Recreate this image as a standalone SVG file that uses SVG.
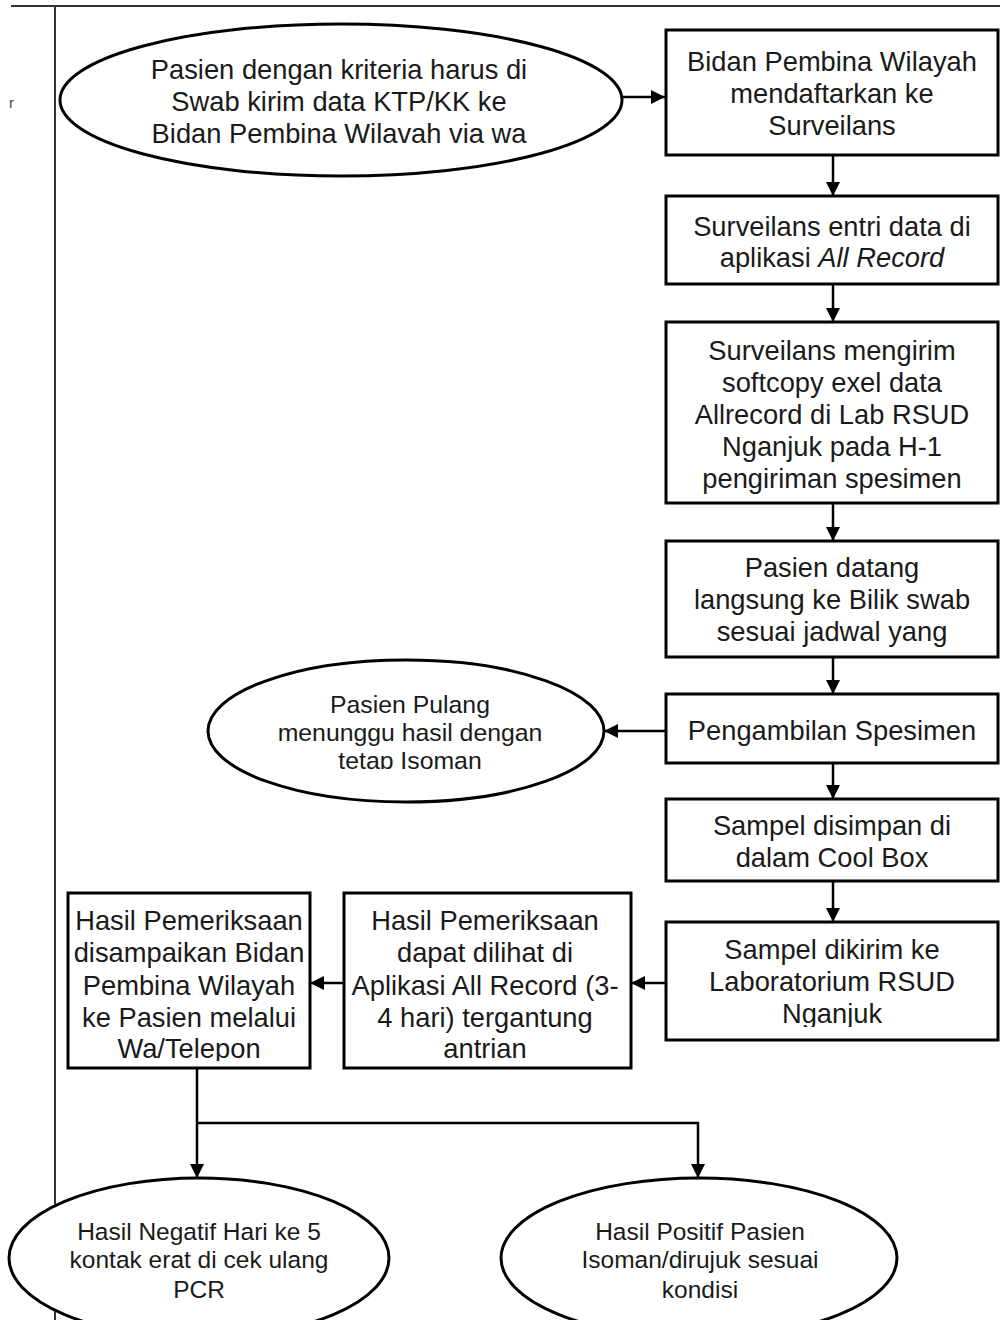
<svg xmlns="http://www.w3.org/2000/svg" width="1000" height="1320" viewBox="0 0 1000 1320">
<defs>
<style>
.shape{fill:#fff;stroke:#000;stroke-width:3}
.t{font-family:"Liberation Sans",Arial,sans-serif;font-size:27.3px;fill:#1a1a1a;text-anchor:middle}
.t2{font-family:"Liberation Sans",Arial,sans-serif;font-size:24.8px;fill:#1a1a1a;text-anchor:middle}
.t3{font-family:"Liberation Sans",Arial,sans-serif;font-size:24.5px;fill:#1a1a1a;text-anchor:middle}
.conn{fill:none;stroke:#000;stroke-width:2.5}
.frame{stroke:#333;stroke-width:2;fill:none}
</style>
<marker id="ah" viewBox="0 0 10 10" refX="10" refY="5" markerWidth="14" markerHeight="14" markerUnits="userSpaceOnUse" orient="auto">
<path d="M0,0 L10,5 L0,10 z" fill="#000"/>
</marker>
<clipPath id="c1"><rect x="0" y="0" width="1000" height="143.5"/></clipPath>
<clipPath id="c2"><rect x="0" y="0" width="1000" height="769"/></clipPath>
<clipPath id="c7"><rect x="0" y="0" width="1000" height="1027"/></clipPath>
<clipPath id="c89"><rect x="0" y="0" width="1000" height="1061"/></clipPath>
</defs>

<g id="frame">
<line class="frame" x1="11" y1="6" x2="1000" y2="6"/>
<line class="frame" x1="55" y1="6" x2="55" y2="1320"/>
<text x="9" y="108" style="font-family:'Liberation Sans',Arial,sans-serif;font-size:15px;fill:#444">r</text>
</g>

<g id="connectors">
<path class="conn" d="M622,97 H665" marker-end="url(#ah)"/>
<path class="conn" d="M833,155 V196" marker-end="url(#ah)"/>
<path class="conn" d="M833,284 V322" marker-end="url(#ah)"/>
<path class="conn" d="M833,503 V541" marker-end="url(#ah)"/>
<path class="conn" d="M833,657 V694" marker-end="url(#ah)"/>
<path class="conn" d="M665,731 H604" marker-end="url(#ah)"/>
<path class="conn" d="M833,763 V799" marker-end="url(#ah)"/>
<path class="conn" d="M833,881 V922" marker-end="url(#ah)"/>
<path class="conn" d="M665,983 H631" marker-end="url(#ah)"/>
<path class="conn" d="M344,983 H310" marker-end="url(#ah)"/>
<path class="conn" d="M197,1068 V1178" marker-end="url(#ah)"/>
<path class="conn" d="M197,1123 H698 V1178" marker-end="url(#ah)"/>
</g>

<g id="start">
<ellipse class="shape" cx="341" cy="100" rx="281" ry="76"/>
<g clip-path="url(#c1)">
<text class="t" x="339" y="79">Pasien dengan kriteria harus di</text>
<text class="t" x="339" y="111">Swab kirim data KTP/KK ke</text>
<text class="t" x="339" y="143">Bidan Pembina Wilavah via wa</text>
</g>
</g>

<g id="bidan-daftar">
<rect class="shape" x="666" y="30" width="332" height="125"/>
<text class="t" x="832" y="71">Bidan Pembina Wilayah</text>
<text class="t" x="832" y="103">mendaftarkan ke</text>
<text class="t" x="832" y="135">Surveilans</text>
</g>

<g id="entri-data">
<rect class="shape" x="666" y="196" width="332" height="88"/>
<text class="t" x="832" y="236">Surveilans entri data di</text>
<text class="t" x="832" y="267">aplikasi <tspan font-style="italic">All Record</tspan></text>
</g>

<g id="kirim-softcopy">
<rect class="shape" x="666" y="322" width="332" height="181"/>
<text class="t" x="832" y="360">Surveilans mengirim</text>
<text class="t" x="832" y="392">softcopy exel data</text>
<text class="t" x="832" y="424">Allrecord di Lab RSUD</text>
<text class="t" x="832" y="456">Nganjuk pada H-1</text>
<text class="t" x="832" y="488">pengiriman spesimen</text>
</g>

<g id="pasien-datang">
<rect class="shape" x="666" y="541" width="332" height="116"/>
<text class="t" x="832" y="577">Pasien datang</text>
<text class="t" x="832" y="609">langsung ke Bilik swab</text>
<text class="t" x="832" y="641">sesuai jadwal yang</text>
</g>

<g id="pengambilan">
<rect class="shape" x="666" y="694" width="332" height="69"/>
<text class="t" x="832" y="740">Pengambilan Spesimen</text>
</g>

<g id="pasien-pulang">
<ellipse class="shape" cx="406" cy="731" rx="198" ry="71"/>
<g clip-path="url(#c2)">
<text class="t2" x="410" y="713">Pasien Pulang</text>
<text class="t2" x="410" y="741">menunggu hasil dengan</text>
<text class="t2" x="410" y="769">tetap Isoman</text>
</g>
</g>

<g id="cool-box">
<rect class="shape" x="666" y="799" width="332" height="82"/>
<text class="t" x="832" y="835">Sampel disimpan di</text>
<text class="t" x="832" y="867">dalam Cool Box</text>
</g>

<g id="kirim-lab">
<rect class="shape" x="666" y="922" width="332" height="118"/>
<g clip-path="url(#c7)">
<text class="t" x="832" y="959">Sampel dikirim ke</text>
<text class="t" x="832" y="991">Laboratorium RSUD</text>
<text class="t" x="832" y="1023">Nganjuk</text>
</g>
</g>

<g id="hasil-aplikasi">
<rect class="shape" x="344" y="893" width="287" height="175"/>
<g clip-path="url(#c89)">
<text class="t" x="485" y="930">Hasil Pemeriksaan</text>
<text class="t" x="485" y="962">dapat dilihat di</text>
<text class="t" x="485" y="995">Aplikasi All Record (3-</text>
<text class="t" x="485" y="1027">4 hari) tergantung</text>
<text class="t" x="485" y="1058">antrian</text>
</g>
</g>

<g id="hasil-disampaikan">
<rect class="shape" x="68" y="893" width="242" height="175"/>
<g clip-path="url(#c89)">
<text class="t" x="189" y="930">Hasil Pemeriksaan</text>
<text class="t" x="189" y="962">disampaikan Bidan</text>
<text class="t" x="189" y="995">Pembina Wilayah</text>
<text class="t" x="189" y="1027">ke Pasien melalui</text>
<text class="t" x="189" y="1058">Wa/Telepon</text>
</g>
</g>

<g id="hasil-negatif">
<ellipse class="shape" cx="199" cy="1258" rx="190" ry="80"/>
<text class="t3" x="199" y="1240">Hasil Negatif Hari ke 5</text>
<text class="t3" x="199" y="1268">kontak erat di cek ulang</text>
<text class="t3" x="199" y="1298">PCR</text>
</g>

<g id="hasil-positif">
<ellipse class="shape" cx="699" cy="1258" rx="198" ry="80"/>
<text class="t3" x="700" y="1240">Hasil Positif Pasien</text>
<text class="t3" x="700" y="1268">Isoman/dirujuk sesuai</text>
<text class="t3" x="700" y="1298">kondisi</text>
</g>
</svg>
